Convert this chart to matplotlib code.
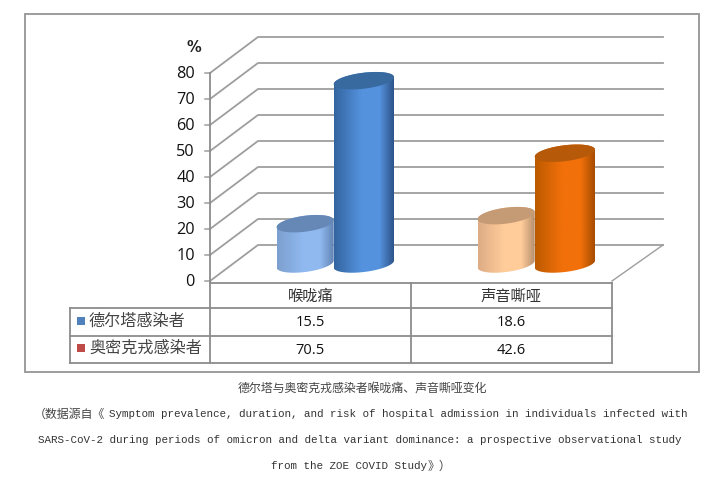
import matplotlib
matplotlib.use('Agg')
import matplotlib.pyplot as plt
from matplotlib.colors import LinearSegmentedColormap
from matplotlib.patches import PathPatch, Rectangle
from matplotlib.path import Path
import numpy as np

categories = ['喉咙痛', '声音嘶哑']
series_names = ['德尔塔感染者', '奥密克戎感染者']
delta_values = [15.5, 18.6]
omicron_values = [70.5, 42.6]
y_ticks = [0, 10, 20, 30, 40, 50, 60, 70, 80]

# left side, centre, right side, top cap for each cylinder
delta_colors = [['#7C9FCE', '#90B9F0', '#5E7FAE', '#6688B6'],
                ['#DDAC84', '#FFCC9A', '#B08A6A', '#C59B76']]
omicron_colors = [['#33659F', '#5592DE', '#2A4F84', '#38699F'],
                  ['#BC5A00', '#F2700A', '#A04A00', '#B65A0A']]

CJK = ['Noto Sans CJK SC', 'DejaVu Sans']
MONO = ['Liberation Mono', 'Noto Sans CJK SC']
GRID = '#9E9E9E'
TABLE = '#8C8C8C'

# page scale: one category = 201 px, 10 percent = 26 px, front origin at (210, 281)
X0, Y0, CAT_W, UNIT = 210, 281, 201.0, 2.6


def px(x):
    return (x - X0) / CAT_W


def py(y):
    return (Y0 - y) / UNIT


fig = plt.figure(figsize=(7.1, 4.8), dpi=100)
ax = fig.add_axes([0, 0, 1, 1])
xlim = (px(0), px(710))
ylim = (py(480), py(0))
ax.axis('off')

depth_x = 48 / CAT_W
depth_y = 36 / UNIT
wall_end = px(663)
n_cat = len(categories)

# outer frame
ax.add_patch(Rectangle((px(25), py(372)), px(699) - px(25), py(14) - py(372),
                       fc='white', ec='#9C9C9C', lw=1.4, zorder=0))

# back wall and side wall
for v in y_ticks:
    ax.plot([0, depth_x, wall_end], [v, v + depth_y, v + depth_y], color=GRID, lw=1.3, zorder=1)
    ax.plot([px(205), 0], [v, v], color=GRID, lw=1.1, zorder=1)
    ax.text(px(195), v - 1.5 / UNIT, str(v), ha='right', va='center', fontsize=11.7,
            family='Open Sans', color='#111111')
ax.plot([n_cat, wall_end], [0, depth_y], color=GRID, lw=1.0, zorder=1)
ax.plot([0, 0], [py(363), 80], color=TABLE, lw=1.3, zorder=2)
ax.text(px(194), py(47), '%', ha='center', va='center', fontsize=10.5, fontweight='bold',
        family='DejaVu Sans', color='#222222')


def cylinder(cx, value, half_w, colors, z):
    # base sits half way through the floor depth
    base = depth_y / 2 - 1 / UNIT
    top = base + value
    b = 8 / UNIT
    tilt = 3.5 / UNIT
    t = np.linspace(0, np.pi, 60)
    xs = cx + half_w * np.cos(t)
    upper = b * np.sin(t) + tilt * np.cos(t)
    lower = -b * np.sin(t) + tilt * np.cos(t)
    body = np.vstack([np.column_stack([xs, top + upper]),
                      np.column_stack([xs[::-1], base + lower[::-1]])])
    clip = PathPatch(Path(body), transform=ax.transData, fc='none', ec='none')
    ax.add_patch(clip)
    stops = [(0, colors[0]), (0.45, colors[1]), (0.75, colors[1]), (1, colors[2])]
    cmap = LinearSegmentedColormap.from_list('c', stops)
    im = ax.imshow(np.linspace(0, 1, 128).reshape(1, -1),
                   extent=(cx - half_w, cx + half_w, base - b * 2, top + b * 2),
                   cmap=cmap, aspect='auto', zorder=z, interpolation='bilinear')
    im.set_clip_path(clip)
    cap = np.column_stack([np.r_[xs, xs[::-1]], top + np.r_[upper, lower[::-1]]])
    ax.fill(cap[:, 0], cap[:, 1], color=colors[3], lw=0, zorder=z + 0.1)


for i in range(n_cat):
    group = i + 0.5 + depth_x / 2
    cylinder(group - 0.146, delta_values[i], 0.142, delta_colors[i], 3)
    cylinder(group + 0.146, omicron_values[i], 0.15, omicron_colors[i], 4)

# data table under the chart
rows = [py(283), py(308), py(336), py(363)]
ax.plot([0, n_cat], [rows[0], rows[0]], color=TABLE, lw=1.3, zorder=2)
for r in rows[1:]:
    ax.plot([px(70), n_cat], [r, r], color=TABLE, lw=1.3, zorder=2)
ax.plot([px(70), px(70)], [rows[1], rows[3]], color=TABLE, lw=1.3, zorder=2)
for c in range(1, n_cat + 1):
    ax.plot([c, c], [rows[0], rows[3]], color=TABLE, lw=1.3, zorder=2)

for i, name in enumerate(categories):
    ax.text(i + 0.5, py(296), name, ha='center', va='center', fontsize=11, family=CJK, color='#333333')
    ax.text(i + 0.5, py(323), '%.1f' % delta_values[i], ha='center', va='center', fontsize=10.5,
            family='Open Sans', color='#111111')
    ax.text(i + 0.5, py(350), '%.1f' % omicron_values[i], ha='center', va='center', fontsize=10.5,
            family='Open Sans', color='#111111')

key_colors = ['#4F81BD', '#BE4B48']
for name, key, y in zip(series_names, key_colors, [321, 348]):
    ax.add_patch(Rectangle((px(77), py(y + 4)), 8 / CAT_W, 8 / UNIT, fc=key, ec='none', zorder=3))
    ax.text(px(89), py(y), name, ha='left', va='center', fontsize=11.6, family=CJK, color='#444444')

# caption below the frame
ax.text(px(362), py(388), '德尔塔与奥密克戎感染者喉咙痛、声音嘶哑变化', ha='center', va='center',
        fontsize=8.6, family=CJK, color='#444444')
ax.text(px(34), py(414), '（数据源自《', ha='left', va='center', fontsize=8.6, family=CJK, color='#444444')
ax.text(px(109), py(414), 'Symptom prevalence, duration, and risk of hospital admission in individuals infected with',
        ha='left', va='center', fontsize=7.8, family=MONO, color='#333333')
ax.text(px(38), py(440), 'SARS-CoV-2 during periods of omicron and delta variant dominance: a prospective observational study',
        ha='left', va='center', fontsize=7.8, family=MONO, color='#333333')
ax.text(px(271), py(466), 'from the ZOE COVID Study', ha='left', va='center', fontsize=7.8, family=MONO, color='#333333')
ax.text(px(428), py(466), '》）', ha='left', va='center', fontsize=8.6, family=CJK, color='#444444')

ax.set_xlim(xlim)
ax.set_ylim(ylim)
fig.savefig('out.png', dpi=100)
